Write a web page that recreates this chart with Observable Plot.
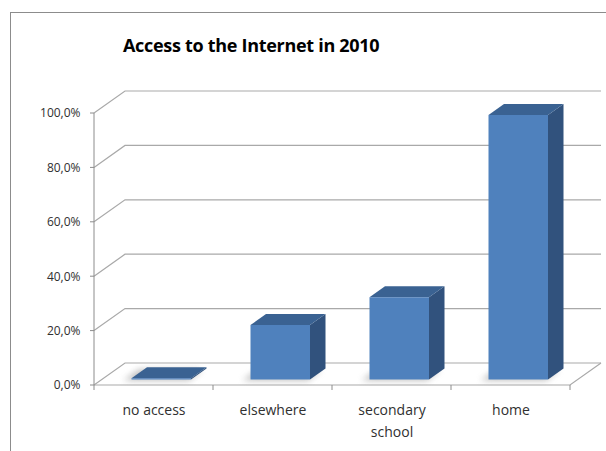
<!DOCTYPE html>
<html><head><meta charset="utf-8">
<script src="https://cdn.jsdelivr.net/npm/d3@7"></script>
<script src="https://cdn.jsdelivr.net/npm/@observablehq/plot@0.6"></script>
<style>
body{margin:0;background:#fff;}
#wrap{position:relative;width:606px;height:451px;overflow:hidden;font-family:"Open Sans",sans-serif;background:#fff;}
#frame{position:absolute;left:10px;top:12px;width:700px;height:600px;border-left:1px solid #8c8c8c;border-top:1px solid #8c8c8c;pointer-events:none;}
#title{position:absolute;left:123px;top:36px;font-size:18px;line-height:18px;font-weight:bold;color:#000;white-space:nowrap;letter-spacing:-0.3px;}
#chart{position:absolute;left:0;top:0;}
</style></head>
<body>
<div id="wrap"><div id="chart"></div><div id="frame"></div><div id="title">Access to the Internet in 2010</div></div>
<script>
const categories = ["no access", "elsewhere", "secondary school", "home"];
const categoryLabels = ["no access", "elsewhere", "secondary\nschool", "home"];
const values = [0.5, 20.0, 30.2, 97.2];
const yTicks = [0, 20, 40, 60, 80, 100];

const depth = {dx: 31, dy: -22};
const colors = {front: "#4f81bd", top: "#3a6292", side: "#31527d", grid: "#a9a9a9", axis: "#8c8c8c"};

function walls(index, scales, vals, dim) {
  const x = scales.x, y = scales.y;
  const bw = x.bandwidth();
  const x0 = x(categories[0]);
  const x1 = x(categories[categories.length - 1]) + bw;
  const y0 = y(0);
  const g = d3.create("svg:g");
  for (const t of yTicks) {
    const yy = y(t);
    g.append("path")
      .attr("d", `M${x0},${yy}L${x0 + depth.dx},${yy + depth.dy}L${x1 + depth.dx},${yy + depth.dy}`)
      .attr("fill", "none").attr("stroke", colors.grid).attr("stroke-width", 1.2);
    g.append("path").attr("d", `M${x0 - 4},${yy}H${x0}`).attr("stroke", colors.axis);
  }
  g.append("path")
    .attr("d", `M${x0},${y0}L${x1},${y0}L${x1 + depth.dx},${y0 + depth.dy}`)
    .attr("fill", "none").attr("stroke", colors.grid).attr("stroke-width", 1.2);
  g.append("path").attr("d", `M${x0},${y(100)}V${y0}`).attr("stroke", colors.axis);
  const bounds = categories.map(c => x(c)).concat([x1]);
  for (const b of bounds) {
    g.append("path").attr("d", `M${b},${y0}V${y0 + 5}`).attr("stroke", colors.axis);
  }
  return g.node();
}

function bars(index, scales, vals, dim) {
  const x = scales.x, y = scales.y;
  const bw = x.bandwidth();
  const g = d3.create("svg:g");
  const defs = g.append("defs");
  defs.append("filter").attr("id", "shadowblur").attr("x", "-50%").attr("y", "-50%").attr("width", "200%").attr("height", "200%")
    .append("feGaussianBlur").attr("stdDeviation", 3);
  const fx = depth.dx * 0.25, fy = depth.dy * 0.25;
  const hx = depth.dx * 0.5, hy = depth.dy * 0.5;
  categories.forEach((c, i) => {
    const l = x(c) + bw * 0.25 + fx;
    const r = l + bw * 0.5;
    const b = y(0) + fy;
    const t = y(values[i]) + fy;
    g.append("path")
      .attr("d", `M${l - 8},${b + 1}L${r - 2},${b + 1}L${r + hx - 4},${b + hy + 1}L${l + hx - 8},${b + hy + 1}Z`)
      .attr("fill", "#8a8a8a").attr("opacity", 0.55).attr("filter", "url(#shadowblur)");
    g.append("path")
      .attr("d", `M${r},${b}L${r},${t}L${r + hx},${t + hy}L${r + hx},${b + hy}Z`)
      .attr("fill", colors.side);
    g.append("path")
      .attr("d", `M${l},${t}L${r},${t}L${r + hx},${t + hy}L${l + hx},${t + hy}Z`)
      .attr("fill", colors.top);
    g.append("path")
      .attr("d", `M${l},${b}L${l},${t}L${r},${t}L${r},${b}Z`)
      .attr("fill", colors.front);
  });
  return g.node();
}

const fmt = v => v.toFixed(1).replace(".", ",") + "%";

const plot = Plot.plot({
  width: 606,
  height: 451,
  marginLeft: 93,
  marginRight: 36,
  marginTop: 113,
  marginBottom: 66,
  style: {fontFamily: "'Open Sans', sans-serif", background: "transparent", color: "#303030", overflow: "visible"},
  x: {type: "band", domain: categories, padding: 0},
  y: {type: "linear", domain: [0, 100]},
  marks: [
    walls,
    bars,
    Plot.axisY(yTicks, {tickSize: 0, tickPadding: 13, tickFormat: fmt, fontSize: 12, label: null}),
    Plot.axisX(categories, {tickSize: 0, tickPadding: 14, tickFormat: (d) => categoryLabels[categories.indexOf(d)], fontSize: 14, lineHeight: 1.55, label: null})
  ]
});
document.getElementById("chart").appendChild(plot);
</script>
</body></html>
